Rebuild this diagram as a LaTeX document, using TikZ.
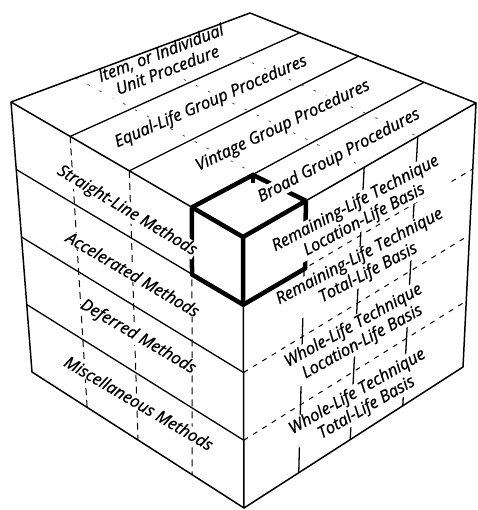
\documentclass[tikz,border=0pt]{standalone}
\usepackage{fontspec}
\setmainfont{Open Sans}[ItalicFeatures={FakeBold=0.9}]
\usetikzlibrary{calc}

\begin{document}
\begin{tikzpicture}[x=1pt, y=-1pt,
	every node/.style={font=\itshape\fontsize{16.5}{18.5}\selectfont, align=center, fill=white, inner sep=0.4pt},
	edge/.style={line width=1.5pt, line join=round},
	band/.style={line width=1.3pt},
	dashcol/.style={line width=1pt, dash pattern=on 7pt off 5pt},
	dashrow/.style={line width=1pt, dash pattern=on 5pt off 6pt},
	faint/.style={line width=0.8pt, black!70, dash pattern=on 2.5pt off 11pt},
	bold/.style={line width=4.5pt, line join=miter}]
	\useasboundingbox (0,0) rectangle (477,510);
	% corners of the cube
	\coordinate (L) at (11,102);
	\coordinate (B) at (250,13);
	\coordinate (R) at (476,103);
	\coordinate (F) at (243,237);
	\coordinate (LB) at (32,372);
	\coordinate (FB) at (244,508);
	\coordinate (RB) at (463,367);
	% left face: methods
	\foreach \t in {0.25,0.5,0.75}
		\draw[band] ($(L)!\t!(LB)$) -- ($(F)!\t!(FB)$);
	\foreach \a/\b in {0.255/0.26, 0.51/0.5, 0.78/0.755}
		\draw[dashcol] ($(L)!\a!(F)$) -- ($(LB)!\b!(FB)$);
	% top face: procedures
	\foreach \a/\c in {0.255/0.22, 0.51/0.48, 0.78/0.77}
		\draw[band] ($(L)!\a!(F)$) -- ($(B)!\c!(R)$);
	\foreach \d in {0.27, 0.52, 0.75}
		\draw[faint] ($(L)!\d!(B)$) -- ($(F)!\d!(R)$);
	% right face: techniques
	\foreach \t in {0.25,0.5,0.75}
		\draw[dashrow] ($(F)!\t!(FB)$) -- ($(R)!\t!(RB)$);
	\foreach \e/\f in {0.27/0.25, 0.52/0.485, 0.75/0.725}
		\draw[band] ($(F)!\e!(R)$) -- ($(FB)!\f!(RB)$);
	% the marked cell
	\coordinate (T1) at ($(L)!0.78!(F)$);
	\coordinate (T3) at ($(F)!0.27!(R)$);
	\coordinate (T2) at (253,175);
	\coordinate (FM) at ($(F)!0.25!(FB)$);
	\coordinate (T1b) at (192,274.5);
	\coordinate (T3b) at (305,268.5);
	\draw[bold] (T1) -- (F) -- (T3);
	\draw[bold] (F) -- (FM);
	\draw[bold] (T1) -- (T1b) -- (FM) -- (T3b) -- (T3);
	\draw[bold] (T1) -- (T2) -- (T3);
	\draw[bold] (T2) -- ++(0,8);
	% labels
	\node[rotate=21] (item) at (164,61) {Item, or Individual\\Unit Procedure};
	\node[rotate=23.5] (equal) at (211,102) {Equal-Life Group Procedures};
	\node[rotate=25.5] (vintage) at (283,126) {Vintage Group Procedures};
	\node[rotate=28] (broad) at (339,156) {Broad Group Procedures};
	\node[rotate=-31] (straight) at (127,211) {Straight-Line Methods};
	\node[rotate=-30.5] (accel) at (133,274) {Accelerated Methods};
	\node[rotate=-30.5] (deferred) at (138,337) {Deferred Methods};
	\node[rotate=-30.5] (misc) at (139,403) {Miscellaneous Methods};
	\node[rotate=28] (rllb) at (360,212) {Remaining-Life Technique\\Location-Life Basis};
	\node[rotate=28] (rltb) at (364,265) {Remaining-Life Technique\\Total-Life Basis};
	\node[rotate=29] (wllb) at (358,334) {Whole-Life Technique\\Location-Life Basis};
	\node[rotate=30] (wltb) at (362,400) {Whole-Life Technique\\Total-Life Basis};
	% outline
	\draw[edge] (L) -- (B) -- (R) -- (F) -- cycle;
	\draw[edge] (L) -- (LB) -- (FB) -- (RB) -- (R);
	\draw[edge] (F) -- (FB);
\end{tikzpicture}
\end{document}
